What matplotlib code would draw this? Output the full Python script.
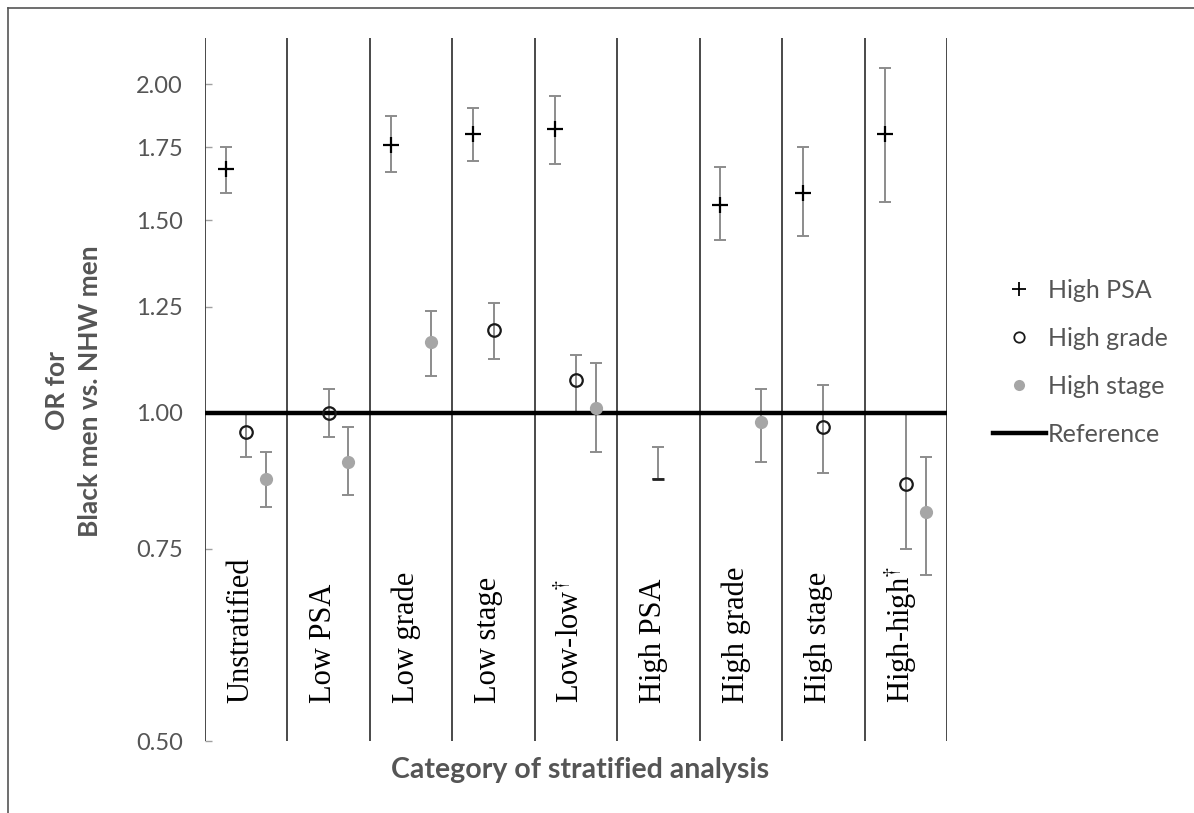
import numpy as np
import matplotlib
matplotlib.use('Agg')
import matplotlib.pyplot as plt
from matplotlib.lines import Line2D
from matplotlib.ticker import FixedLocator, NullLocator

plt.rcParams['mathtext.fontset'] = 'stix'

# ── Data ──────────────────────────────────────────────────────────────────────
categories = ['Unstratified', 'Low PSA', 'Low grade', 'Low stage', 'Low-low$^{\\dagger}$',
              'High PSA', 'High grade', 'High stage', 'High-high$^{\\dagger}$']
nan = np.nan

psa_or = [1.67, nan, 1.76, 1.80, 1.82, nan, 1.55, 1.59, 1.80]
psa_lo = [1.59, nan, 1.66, 1.70, 1.69, nan, 1.44, 1.45, 1.56]
psa_hi = [1.75, nan, 1.87, 1.90, 1.95, nan, 1.68, 1.75, 2.07]

grade_or = [0.96, 1.00, nan, 1.19, 1.07, nan, nan, 0.97, 0.86]
grade_lo = [0.91, 0.95, nan, 1.12, 1.00, nan, nan, 0.88, 0.75]
grade_hi = [1.00, 1.05, nan, 1.26, 1.13, nan, nan, 1.06, 1.00]

stage_or = [0.87, 0.90, 1.16, nan, 1.01, nan, 0.98, nan, 0.81]
stage_lo = [0.82, 0.84, 1.08, nan, 0.92, nan, 0.90, nan, 0.71]
stage_hi = [0.92, 0.97, 1.24, nan, 1.11, nan, 1.05, nan, 0.91]

# stray interval in the High PSA stratum (no visible point marker)
stray_idx = [5]
stray_lo = [0.87]
stray_hi = [0.93]

yticks = [0.50, 0.75, 1.00, 1.25, 1.50, 1.75, 2.00]

# ── Canvas ────────────────────────────────────────────────────────────────────
W, H = 1194, 813
fig = plt.figure(figsize=(W / 100, H / 100), dpi=100)
fig.patch.set_facecolor('white')
ax = fig.add_axes([205 / W, 1 - 741 / H, (947 - 205) / W, (741 - 38) / H])

SANS = 'Lato'
GREY_TXT = '#555555'
ERR = '#8c8c8c'

x = np.arange(len(categories))

def draw(xpos, val, lo, hi, **kw):
    val = np.array(val); lo = np.array(lo); hi = np.array(hi)
    m = ~np.isnan(val)
    ax.errorbar(xpos[m], val[m], yerr=[val[m] - lo[m], hi[m] - val[m]],
                fmt='none', ecolor=ERR, elinewidth=1.4, capsize=4.5, capthick=1.4,
                zorder=4)
    ax.plot(xpos[m], val[m], linestyle='none', zorder=6, **kw)

draw(x - 0.25, psa_or, psa_lo, psa_hi,
     marker='+', markersize=12, markeredgewidth=1.6, color='black')
draw(x + 0.0, grade_or, grade_lo, grade_hi,
     marker='o', markersize=9, markeredgewidth=1.6, markerfacecolor='none',
     markeredgecolor='#1a1a1a')
draw(x + 0.24, stage_or, stage_lo, stage_hi,
     marker='o', markersize=9.5, markeredgewidth=0, color='#a6a6a6')

sx = np.array(stray_idx, dtype=float)
ax.errorbar(sx, stray_lo, yerr=[[0] * len(sx), np.array(stray_hi) - np.array(stray_lo)],
            fmt='none', ecolor=ERR, elinewidth=1.4, capsize=4.5, capthick=1.4, zorder=4)
ax.plot(sx, stray_lo, linestyle='none', marker='_', markersize=8,
        markeredgewidth=2, color='#222222', zorder=5)

# reference line
ax.axhline(1.0, color='black', lw=3.2, zorder=5)

# vertical separators
for b in np.arange(len(categories) + 1) - 0.5:
    ax.axvline(b, color='#3a3a3a', lw=1.3, zorder=2)

ax.set_yscale('log')
ax.set_xlim(-0.5, len(categories) - 0.5)
ax.set_ylim(0.5, 2.204)
ax.yaxis.set_major_locator(FixedLocator(yticks))
ax.yaxis.set_minor_locator(NullLocator())
ax.set_yticklabels([f'{t:.2f}' for t in yticks])
ax.tick_params(axis='y', direction='in', length=5, width=1, color='#a0a0a0',
               pad=16, labelsize=17, labelcolor=GREY_TXT)
for lbl in ax.get_yticklabels():
    lbl.set_fontfamily(SANS)
ax.set_xticks([])
for s in ax.spines.values():
    s.set_visible(False)

# category labels, rotated, serif
for i, c in enumerate(categories):
    ax.text(i - 0.06, 0.542, c, rotation=90, ha='center', va='bottom',
            fontsize=22, family='Liberation Serif', color='black', zorder=3)

# axis titles
fig.text(580 / W, 1 - 770 / H, 'Category of stratified analysis', ha='center',
         va='center', fontsize=20.5, fontweight='bold', color=GREY_TXT, family=SANS)
fig.text(57 / W, 1 - 391 / H, 'OR for', rotation=90, ha='center', va='center',
         fontsize=19, fontweight='bold', color=GREY_TXT, family=SANS)
fig.text(90 / W, 1 - 391 / H, 'Black men vs. NHW men', rotation=90, ha='center',
         va='center', fontsize=19, fontweight='bold', color=GREY_TXT, family=SANS)

# legend
handles = [
    Line2D([], [], linestyle='none', marker='+', markersize=10, markeredgewidth=1.3, color='black'),
    Line2D([], [], linestyle='none', marker='o', markersize=7.5, markeredgewidth=1.3,
           markerfacecolor='none', markeredgecolor='#1a1a1a'),
    Line2D([], [], linestyle='none', marker='o', markersize=8, markeredgewidth=0, color='#a6a6a6'),
    Line2D([], [], color='black', lw=3.2),
]
labels = ['High PSA', 'High grade', 'High stage', 'Reference']
leg = fig.legend(handles, labels, loc='center left',
                 bbox_to_anchor=(993 / W, 1 - 362 / H), frameon=False,
                 handlelength=2.1, handletextpad=0.08, labelspacing=1.0,
                 borderpad=0, borderaxespad=0,
                 prop={'family': SANS, 'size': 18})
for t in leg.get_texts():
    t.set_color(GREY_TXT)

# outer frame (left and top edges visible)
fig.add_artist(Line2D([8 / W, 8 / W], [0, 1 - 8 / H], color='#555555', lw=1.2))
fig.add_artist(Line2D([8 / W, 1], [1 - 8 / H, 1 - 8 / H], color='#555555', lw=1.2))

fig.savefig('out.png', dpi=100, facecolor='white')
